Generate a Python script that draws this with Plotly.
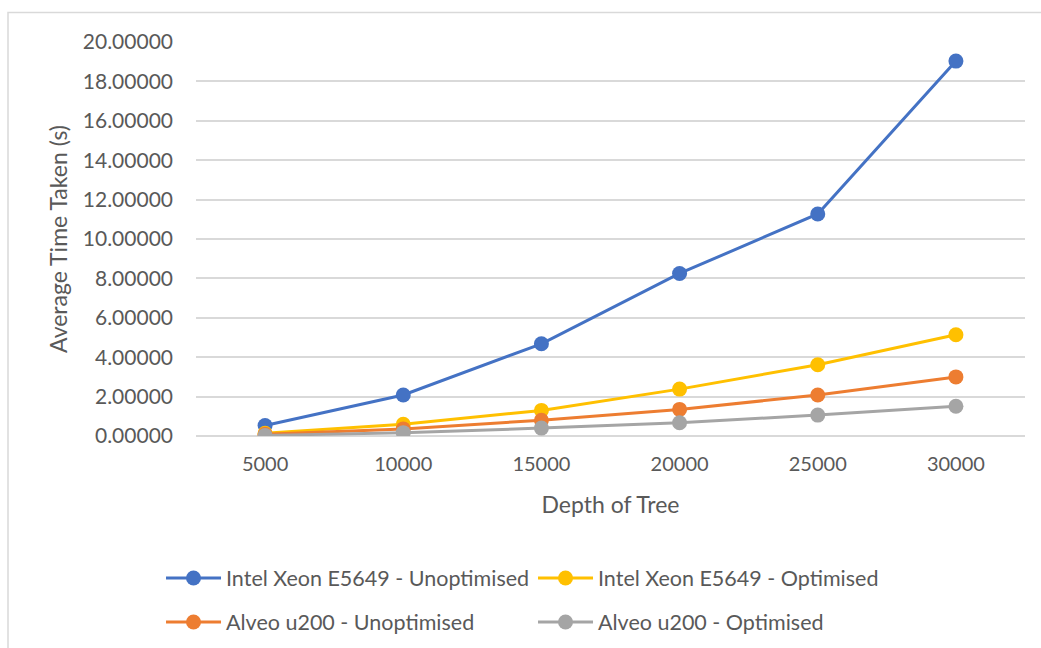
import plotly.graph_objects as go

# Tree depth categories
depths = ["5000", "10000", "15000", "20000", "25000", "30000"]

# Average time taken (s) per configuration
xeon_unopt = [0.53, 2.08, 4.68, 8.25, 11.27, 19.03]
xeon_opt = [0.14, 0.60, 1.30, 2.38, 3.62, 5.14]
alveo_unopt = [0.09, 0.36, 0.80, 1.35, 2.08, 3.00]
alveo_opt = [0.03, 0.17, 0.40, 0.67, 1.06, 1.51]

series = [
    ("Intel Xeon E5649 - Unoptimised", xeon_unopt, "#4472C4", "legend"),
    ("Intel Xeon E5649 - Optimised", xeon_opt, "#FFC000", "legend"),
    ("Alveo u200 - Unoptimised", alveo_unopt, "#ED7D31", "legend2"),
    ("Alveo u200 - Optimised", alveo_opt, "#A5A5A5", "legend2"),
]

font_family = "Lato, 'Open Sans', sans-serif"
text_color = "#595959"

fig = go.Figure()
for name, values, color, leg in series:
    fig.add_trace(go.Scatter(
        x=depths, y=values, name=name, mode="lines+markers",
        line=dict(color=color, width=3),
        marker=dict(color=color, size=15),
        legend=leg,
    ))

legend_style = dict(
    orientation="h", x=-0.0422, xanchor="left", yanchor="middle",
    entrywidth=302, entrywidthmode="pixels", itemwidth=55,
    font=dict(size=21.5, color=text_color, family=font_family),
    bgcolor="rgba(0,0,0,0)",
)

fig.update_layout(
    width=1041, height=648,
    margin=dict(l=196, r=16, t=42, b=212, autoexpand=False),
    paper_bgcolor="white", plot_bgcolor="white",
    font=dict(family=font_family, color=text_color, size=20),
    showlegend=True,
    legend=dict(y=(436 - 578) / 394, **legend_style),
    legend2=dict(y=(436 - 622) / 394, **legend_style),
    xaxis=dict(
        type="category", range=[-0.5, 5.5],
        showgrid=False, showline=False, zeroline=False,
        ticks="", ticklabelstandoff=14,
        tickfont=dict(size=20, color=text_color),
        title=dict(text="Depth of Tree", font=dict(size=23, color=text_color), standoff=22),
    ),
    yaxis=dict(
        range=[0, 20], dtick=2, tickformat=".5f",
        showgrid=True, gridcolor="#D9D9D9", gridwidth=1.5,
        zeroline=True, zerolinecolor="#D9D9D9", zerolinewidth=1.5,
        showline=False, ticks="", ticklabelstandoff=22,
        tickfont=dict(size=21, color=text_color),
        title=dict(text="Average Time Taken (s)", font=dict(size=23, color=text_color), standoff=8),
    ),
    shapes=[dict(
        type="rect", xref="paper", yref="paper",
        x0=(8 - 196) / 829, x1=(1060 - 196) / 829,
        y0=(436 - 660) / 394, y1=(436 - 12.5) / 394,
        line=dict(color="#D9D9D9", width=1.5), fillcolor="rgba(0,0,0,0)", layer="below",
    )],
)

fig.write_html("out.html")
